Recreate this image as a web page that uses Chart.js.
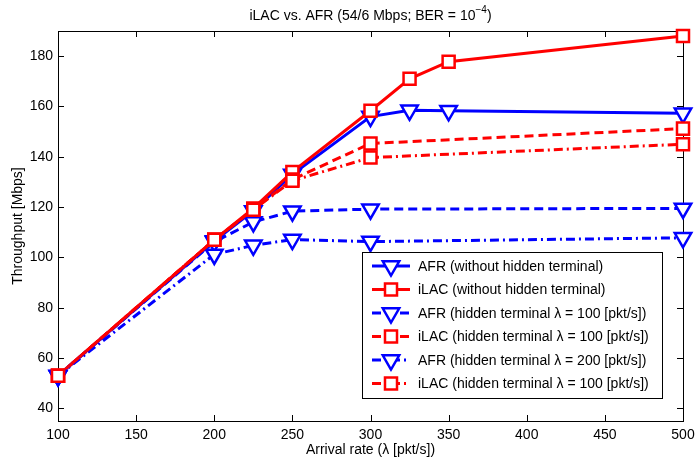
<!DOCTYPE html>
<html>
<head>
<meta charset="utf-8">
<script src="https://cdn.jsdelivr.net/npm/chart.js@4.4.0/dist/chart.umd.min.js"></script>
<style>
  html, body { margin: 0; padding: 0; background: #fff; }
  #wrap { width: 695px; height: 463px; }
</style>
</head>
<body>
<div id="wrap"><canvas id="chart" width="695" height="463"></canvas></div>
<script>
// arrival rates (pkt/s)
const ratesNoHidden = [100, 200, 225, 250, 300, 325, 350, 500];
const ratesHidden = [100, 200, 225, 250, 300, 500];

// throughput (Mbps)
const afrNoHidden = [53, 106.5, 118.5, 133, 156, 158.5, 158.3, 157.3];
const ilacNoHidden = [53, 107, 119.5, 134, 158.3, 171, 177.8, 188];
const afrHidden100 = [53, 106.2, 114.1, 118.4, 119.2, 119.5];
const ilacHidden100 = [53, 107, 119, 131, 145.3, 151.2];
const afrHidden200 = [53, 101.2, 104.8, 107.1, 106.3, 107.8];
const ilacHidden100b = [53, 107, 119, 130.5, 139.7, 145];

const seriesLabels = [
  'AFR (without hidden terminal)',
  'iLAC (without hidden terminal)',
  'AFR (hidden terminal \u03bb = 100 [pkt/s])',
  'iLAC (hidden terminal \u03bb = 100 [pkt/s])',
  'AFR (hidden terminal \u03bb = 200 [pkt/s])',
  'iLAC (hidden terminal \u03bb = 100 [pkt/s])'
];

const xTicks = [100, 150, 200, 250, 300, 350, 400, 450, 500];
const yTicks = [40, 60, 80, 100, 120, 140, 160, 180];

const BLUE = '#0000ff';
const RED = '#ff0000';
const DASH = [9, 5];
const DASHDOT = [9, 4, 2, 4];
const FONT = '"Liberation Sans", Arial, Helvetica, sans-serif';

function pairs(xs, ys) {
  return xs.map((x, i) => ({ x: x, y: ys[i] }));
}

function makeSet(i, xs, ys, color, dash, marker) {
  const tri = marker === 'tri';
  return {
    label: seriesLabels[i],
    data: pairs(xs, ys),
    borderColor: color,
    backgroundColor: '#fff',
    borderWidth: 3,
    borderDash: dash,
    pointStyle: tri ? 'triangle' : 'rect',
    pointRotation: tri ? 180 : 0,
    pointRadius: tri ? 9.5 : 8.5,
    pointBorderWidth: 2.5,
    pointBackgroundColor: '#fff',
    pointBorderColor: color,
    tension: 0,
    clip: false,
    order: 6 - i  // later series on top, like the original
  };
}

const datasets = [
  makeSet(0, ratesNoHidden, afrNoHidden, BLUE, [], 'tri'),
  makeSet(1, ratesNoHidden, ilacNoHidden, RED, [], 'sq'),
  makeSet(2, ratesHidden, afrHidden100, BLUE, DASH, 'tri'),
  makeSet(3, ratesHidden, ilacHidden100, RED, DASH, 'sq'),
  makeSet(4, ratesHidden, afrHidden200, BLUE, DASHDOT, 'tri'),
  makeSet(5, ratesHidden, ilacHidden100b, RED, DASHDOT, 'sq')
];

function drawMarker(ctx, style, x, y, color) {
  ctx.save();
  ctx.setLineDash([]);
  ctx.lineWidth = 2.5;
  ctx.strokeStyle = color;
  ctx.fillStyle = '#fff';
  ctx.beginPath();
  if (style === 'triangle') {
    const r = 9.5;
    ctx.moveTo(x, y + r);
    ctx.lineTo(x - r * Math.sin(Math.PI / 3), y - r / 2);
    ctx.lineTo(x + r * Math.sin(Math.PI / 3), y - r / 2);
  } else {
    const s = 8.5 * Math.SQRT1_2;
    ctx.rect(x - s, y - s, 2 * s, 2 * s);
  }
  ctx.closePath();
  ctx.fill();
  ctx.stroke();
  ctx.restore();
}

// box, inward ticks, title, axis labels, legend
const framePlugin = {
  id: 'frame',
  beforeDatasetsDraw(chart) {
    const { ctx, chartArea: a, scales } = chart;
    ctx.save();
    ctx.strokeStyle = '#000';
    ctx.lineWidth = 1;
    ctx.strokeRect(a.left + 0.5, a.top + 0.5, a.right - a.left, a.bottom - a.top);
    ctx.beginPath();
    xTicks.forEach(v => {
      const px = Math.round(scales.x.getPixelForValue(v)) + 0.5;
      ctx.moveTo(px, a.bottom); ctx.lineTo(px, a.bottom - 6);
      ctx.moveTo(px, a.top); ctx.lineTo(px, a.top + 6);
    });
    yTicks.forEach(v => {
      const py = Math.round(scales.y.getPixelForValue(v)) + 0.5;
      ctx.moveTo(a.left, py); ctx.lineTo(a.left + 6, py);
      ctx.moveTo(a.right, py); ctx.lineTo(a.right - 6, py);
    });
    ctx.stroke();
    ctx.restore();
  },
  afterDraw(chart) {
    const { ctx, chartArea: a } = chart;
    const cx = (a.left + a.right) / 2;
    ctx.save();
    ctx.fillStyle = '#000';
    // title with superscript
    const main = 'iLAC vs. AFR (54/6 Mbps; BER = 10';
    const sup = '\u22124';
    const tail = ')';
    ctx.font = '14px ' + FONT;
    const w1 = ctx.measureText(main).width;
    const w3 = ctx.measureText(tail).width;
    ctx.font = '10px ' + FONT;
    const w2 = ctx.measureText(sup).width;
    const x0 = cx - (w1 + w2 + w3) / 2;
    ctx.textBaseline = 'alphabetic';
    ctx.textAlign = 'left';
    ctx.font = '14px ' + FONT;
    ctx.fillText(main, x0, 20);
    ctx.font = '10px ' + FONT;
    ctx.fillText(sup, x0 + w1, 13);
    ctx.font = '14px ' + FONT;
    ctx.fillText(tail, x0 + w1 + w2, 20);
    // axis titles
    ctx.textAlign = 'center';
    ctx.textBaseline = 'middle';
    ctx.fillText('Arrival rate (\u03bb [pkt/s])', cx, 450);
    ctx.translate(18, (a.top + a.bottom) / 2);
    ctx.rotate(-Math.PI / 2);
    ctx.fillText('Throughput [Mbps]', 0, 0);
    ctx.restore();

    // legend box
    const L = 362, T = 252, R = 662, B = 398;
    ctx.save();
    ctx.fillStyle = '#fff';
    ctx.fillRect(L, T, R - L, B - T);
    ctx.strokeStyle = '#000';
    ctx.lineWidth = 1;
    ctx.strokeRect(L + 0.5, T + 0.5, R - L, B - T);
    ctx.font = '14px ' + FONT;
    ctx.textAlign = 'left';
    ctx.textBaseline = 'middle';
    chart.data.datasets.forEach((ds, i) => {
      const y = 266 + i * 23.5;
      ctx.save();
      ctx.strokeStyle = ds.borderColor;
      ctx.lineWidth = 3;
      ctx.setLineDash(ds.borderDash);
      ctx.beginPath();
      ctx.moveTo(372, y);
      ctx.lineTo(410, y);
      ctx.stroke();
      ctx.restore();
      drawMarker(ctx, ds.pointStyle, 391, y, ds.borderColor);
      ctx.fillStyle = '#000';
      ctx.fillText(ds.label, 418, y + 1);
    });
    ctx.restore();
  }
};

new Chart(document.getElementById('chart'), {
  type: 'line',
  data: { datasets: datasets },
  plugins: [framePlugin],
  options: {
    responsive: false,
    animation: false,
    devicePixelRatio: 1,
    layout: { padding: { top: 31, right: 10, left: 0, bottom: 0 } },
    plugins: {
      legend: { display: false },
      title: { display: false },
      tooltip: { enabled: false }
    },
    scales: {
      x: {
        type: 'linear',
        min: 100,
        max: 500,
        afterBuildTicks: s => { s.ticks = xTicks.map(v => ({ value: v })); },
        afterFit: s => { s.height = 42; },
        grid: { display: false },
        border: { display: false },
        ticks: { color: '#000', font: { size: 14, family: FONT }, padding: -2, maxRotation: 0 }
      },
      y: {
        min: 35,
        max: 190,
        afterBuildTicks: s => { s.ticks = yTicks.map(v => ({ value: v })); },
        afterFit: s => { s.width = 58; },
        grid: { display: false },
        border: { display: false },
        ticks: { color: '#000', font: { size: 14, family: FONT }, padding: -3 }
      }
    }
  }
});
</script>
</body>
</html>
